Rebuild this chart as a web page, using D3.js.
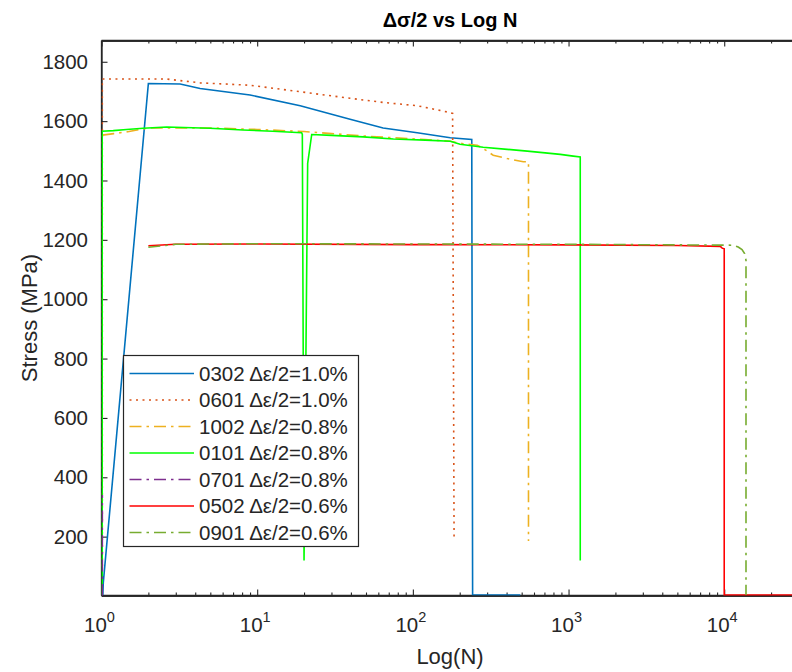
<!DOCTYPE html>
<html>
<head>
<meta charset="utf-8">
<script src="https://cdn.jsdelivr.net/npm/d3@7"></script>
<style>
  html, body { margin: 0; padding: 0; background: #fff; }
  svg { display: block; font-family: "Liberation Sans", Arial, Helvetica, sans-serif; }
</style>
</head>
<body>
<svg id="chart" width="792" height="672"></svg>
<script>
// ---------------- data (N, stress MPa) ----------------
const titleText = "Δσ/2 vs Log N";
const xLabel = "Log(N)";
const yLabel = "Stress (MPa)";
const yTicks = [200, 400, 600, 800, 1000, 1200, 1400, 1600, 1800];
const xMajorTicks = [1, 10, 100, 1000, 10000];
const xTickExponents = ["0", "1", "2", "3", "4"];

const seriesNames = [
  "0302 Δε/2=1.0%", "0601 Δε/2=1.0%", "1002 Δε/2=0.8%", "0101 Δε/2=0.8%",
  "0701 Δε/2=0.8%", "0502 Δε/2=0.6%", "0901 Δε/2=0.6%"
];

const s0302 = [
  [1.02, 3], [1.027, 45], [2.0, 1727], [3.2, 1725], [4.3, 1710], [9, 1688],
  [18.9, 1652], [39.5, 1606], [64.4, 1577], [106.6, 1561], [174, 1544],
  [239, 1538], [242, 4], [490, 3]
];
const s0601 = [
  [1.012, 100], [1.012, 1742], [2.6, 1742], [4.3, 1729], [9, 1721], [18.9, 1699],
  [39.5, 1677], [64.4, 1663], [106.6, 1652], [166, 1631], [180, 1626], [184, 185]
];
const s1002 = [
  [1.012, 1553], [1.2, 1558], [1.5, 1565], [2.0, 1577], [5, 1577], [10, 1572],
  [20, 1565], [30, 1558], [48, 1550], [75, 1544], [120, 1538], [174, 1532],
  [210, 1524], [259, 1519], [283, 1508], [328, 1485], [404, 1474], [512, 1463],
  [553, 1463], [553, 185]
];
const s0101 = [
  [1.01, 3], [1.01, 1566], [1.19, 1568], [1.45, 1572], [1.85, 1576], [2.62, 1580],
  [4.98, 1576], [8.1, 1570], [12.6, 1566], [19.3, 1561], [19.5, 1555], [20.0, 120],
  [20.8, 1100], [21.1, 1458], [22.4, 1555], [30, 1552], [48, 1547], [75, 1540],
  [120, 1536], [174, 1532], [201, 1522], [283, 1512], [404, 1505], [543, 1499],
  [708, 1493], [885, 1488], [1072, 1482], [1189, 1479], [1189, 120]
];
const s0701 = [
  [1.012, 0], [1.012, 340]
];
const s0502 = [
  [2, 1180], [3, 1185], [10, 1186], [100, 1184], [1000, 1183], [5000, 1181],
  [9440, 1178], [9700, 1172], [10000, 1170], [10000, 3], [30000, 3]
];
const s0901 = [
  [2, 1175], [3, 1185], [10, 1187], [100, 1186], [1000, 1185], [11430, 1182],
  [12300, 1176], [13010, 1167], [13520, 1154], [13800, 1131], [13800, 3]
];

const seriesData = [s0302, s0601, s1002, s0101, s0701, s0502, s0901];
const seriesColors = ["#0072BD", "#D95319", "#EDB120", "#00FF00", "#7E2F8E", "#FF0000", "#77AC30"];
const seriesDash = [null, "2,4.5", "12,5,2.5,5", null, "12,5,2.5,5", null, "12,5,2.5,5"];

// ---------------- layout ----------------
const svg = d3.select("#chart");
const axisColor = "#262626";
const xLeft = 101.5, xRight = 798.5, yTop = 40.5, yBottom = 595.5;

const x = d3.scaleLog().domain([1, 30000]).range([xLeft, xRight]);
const y = d3.scaleLinear().domain([0, 1870]).range([596, 41]);

// clip
svg.append("defs").append("clipPath").attr("id", "plotclip")
  .append("rect").attr("x", xLeft).attr("y", yTop).attr("width", xRight - xLeft).attr("height", yBottom - yTop);

// minor ticks
const xMinor = [];
for (let e = 0; e <= 4; e++) for (let m = 2; m <= 9; m++) {
  const v = m * Math.pow(10, e);
  if (v <= 30000) xMinor.push(v);
}

function styleAxis(g) {
  g.selectAll("path.domain").attr("stroke", axisColor).attr("stroke-width", 1.3);
  g.selectAll(".tick line").attr("stroke", axisColor).attr("stroke-width", 1.1);
  g.selectAll(".tick text").remove();
}

// bottom axis
svg.append("g").attr("transform", `translate(0,${yBottom})`)
  .call(d3.axisBottom(x).tickValues(xMajorTicks).tickSizeInner(-6).tickSizeOuter(0).tickFormat(""))
  .call(styleAxis);
svg.append("g").attr("transform", `translate(0,${yBottom})`)
  .call(d3.axisBottom(x).tickValues(xMinor).tickSizeInner(-3).tickSizeOuter(0).tickFormat(""))
  .call(styleAxis);
// top axis
svg.append("g").attr("transform", `translate(0,${yTop})`)
  .call(d3.axisTop(x).tickValues(xMajorTicks).tickSizeInner(-6).tickSizeOuter(0).tickFormat(""))
  .call(styleAxis);
svg.append("g").attr("transform", `translate(0,${yTop})`)
  .call(d3.axisTop(x).tickValues(xMinor).tickSizeInner(-3).tickSizeOuter(0).tickFormat(""))
  .call(styleAxis);
// left axis
const yAxisG = svg.append("g").attr("transform", `translate(${xLeft},0)`)
  .call(d3.axisLeft(y).tickValues(yTicks).tickSizeInner(-6).tickSizeOuter(0).tickFormat(d3.format("d")));
yAxisG.select("path.domain").attr("stroke", axisColor).attr("stroke-width", 1.3);
yAxisG.selectAll(".tick line").attr("stroke", axisColor).attr("stroke-width", 1.1);
yAxisG.selectAll(".tick text")
  .attr("x", -13.5)
  .attr("fill", axisColor)
  .style("font-size", "20.5px")
  .style("font-family", "'Liberation Sans', Arial, sans-serif");
// box lines
svg.append("line").attr("x1", xLeft).attr("x2", xLeft).attr("y1", yTop).attr("y2", yBottom)
  .attr("stroke", axisColor).attr("stroke-width", 1.3);
svg.append("line").attr("x1", xLeft).attr("x2", xRight).attr("y1", yTop).attr("y2", yTop)
  .attr("stroke", axisColor).attr("stroke-width", 1.3);
svg.append("line").attr("x1", xLeft).attr("x2", xRight).attr("y1", yBottom).attr("y2", yBottom)
  .attr("stroke", axisColor).attr("stroke-width", 1.3);

// lines (drawn over the axes, like MATLAB's default layer)
const line = d3.line().x(d => x(d[0])).y(d => y(d[1]));
const plot = svg.append("g").attr("clip-path", "url(#plotclip)");
seriesData.forEach((data, i) => {
  plot.append("path")
    .attr("d", line(data))
    .attr("fill", "none")
    .attr("stroke", seriesColors[i])
    .attr("stroke-width", 1.6)
    .attr("stroke-dasharray", seriesDash[i])
    .attr("stroke-linejoin", "miter");
});

// x tick labels 10^k
const xl = svg.append("g");
xMajorTicks.forEach((v, i) => {
  const t = xl.append("text")
    .attr("x", x(v) - 2)
    .attr("y", 632)
    .attr("text-anchor", "middle")
    .attr("fill", axisColor)
    .style("font-size", "20.5px");
  t.append("tspan").text("10");
  t.append("tspan").attr("dy", -10).style("font-size", "14.5px").text(xTickExponents[i]);
});

// axis labels
svg.append("text").attr("x", 450).attr("y", 664).attr("text-anchor", "middle")
  .attr("fill", axisColor).style("font-size", "22px").text(xLabel);
svg.append("text").attr("transform", "translate(37,318) rotate(-90)").attr("text-anchor", "middle")
  .attr("fill", axisColor).style("font-size", "22px").text(yLabel);
svg.append("text").attr("x", 450).attr("y", 27).attr("text-anchor", "middle")
  .attr("fill", "#000").style("font-size", "20px").style("font-weight", "bold").text(titleText);

// legend
const lg = svg.append("g");
lg.append("rect").attr("x", 123.5).attr("y", 355.5).attr("width", 235).attr("height", 191)
  .attr("fill", "#fff").attr("stroke", axisColor).attr("stroke-width", 1.2);
seriesNames.forEach((name, i) => {
  const cy = 373.5 + i * 26.5;
  lg.append("line").attr("x1", 129.5).attr("x2", 194).attr("y1", cy).attr("y2", cy)
    .attr("stroke", seriesColors[i]).attr("stroke-width", 1.6)
    .attr("stroke-dasharray", seriesDash[i]);
  lg.append("text").attr("x", 199).attr("y", cy).attr("dy", "0.35em")
    .attr("fill", axisColor).style("font-size", "20.5px").text(name);
});
</script>
</body>
</html>
